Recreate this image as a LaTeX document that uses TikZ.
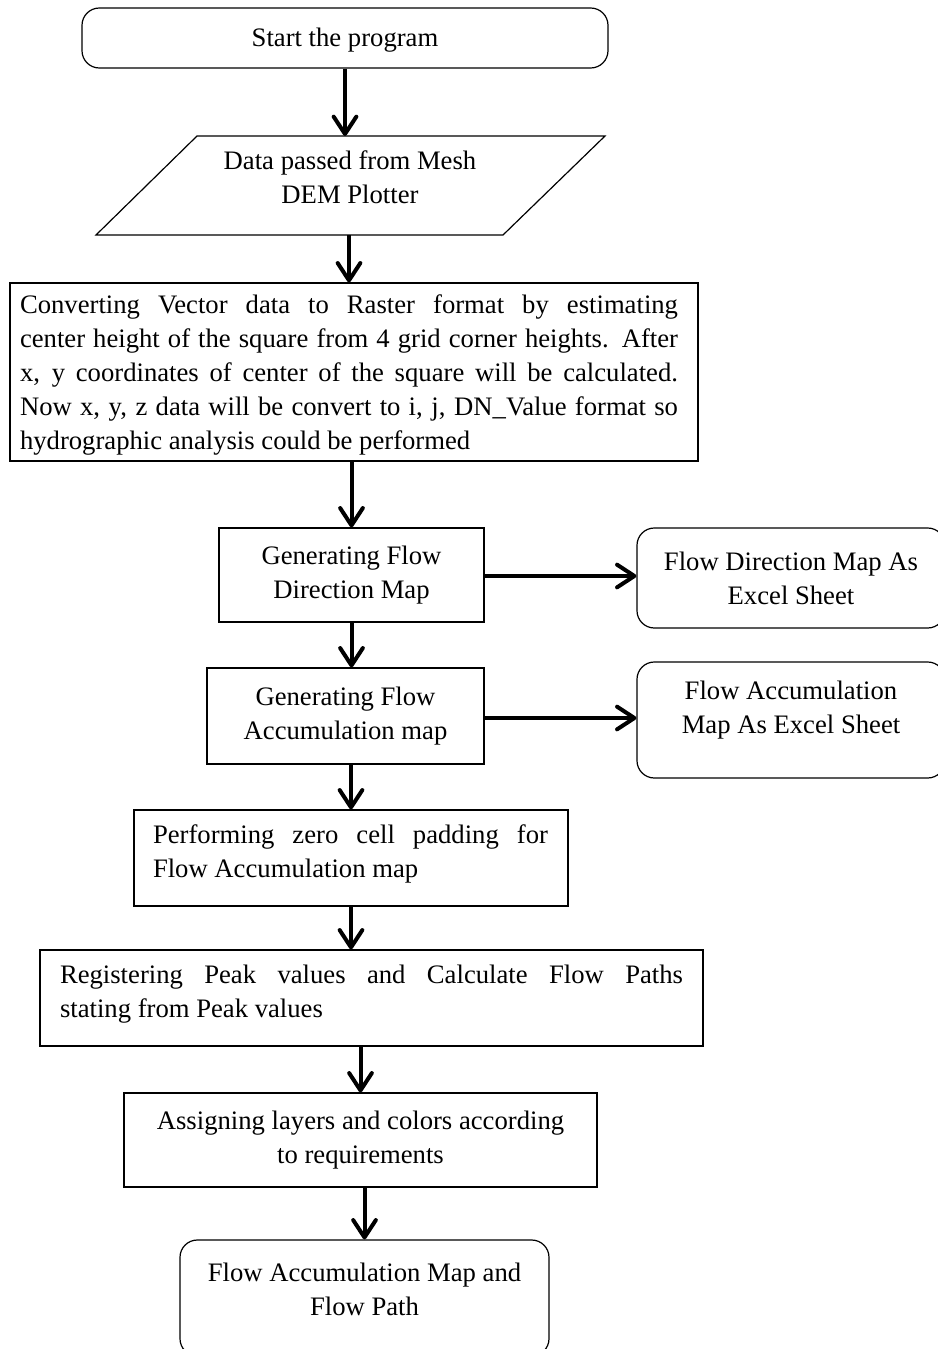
\documentclass[tikz,border=0pt]{standalone}
\usepackage{fontspec}
\setmainfont{Liberation Serif}
\usetikzlibrary{arrows.meta}
\tolerance=10000\relax
\hyphenpenalty=10000\relax
\hbadness=10000\relax
\begin{document}
\begin{tikzpicture}[x=0.75pt,y=-0.75pt,
  every node/.style={font=\fontsize{20}{25.5}\selectfont},
  box/.style={draw, line width=0.9pt, inner sep=0pt, align=center},
  term/.style={box, rounded corners=13pt},
  txt/.style={inner sep=0pt, align=center},
  arr/.style={line width=3pt, -{Straight Barb[length=13pt,width=17pt,round]}},
]
\useasboundingbox (0,0) rectangle (938,1349);

\node[term, minimum width=394.5pt, minimum height=45pt] (start) at (345,38) {};
\node[txt] (starttext) at (345,40) {Start the program};

\coordinate (dTL) at (197,136);
\coordinate (dTR) at (605,136);
\coordinate (dBR) at (503,235);
\coordinate (dBL) at (96,235);
\draw[line width=0.9pt] (dTL) -- (dTR) -- (dBR) -- (dBL) -- cycle;
\coordinate (dataN) at (347,136);
\coordinate (dataS) at (349,235);
\node[txt] (datatext) at (350,177.5) {Data passed from Mesh\\DEM Plotter};

\node[box, minimum width=516pt, minimum height=133.5pt] (conv) at (354,372) {};
\node[txt, text width=493.5pt, align=justify] (convtext) at (349,375) {Converting Vector data to Raster format by estimating\linebreak
center height of the square from 4 grid corner heights. After\linebreak
x, y coordinates of center of the square will be calculated.\linebreak
Now x, y, z data will be convert to i, j, DN\_Value format so\linebreak
hydrographic analysis could be performed};

\node[box, minimum width=198.75pt, minimum height=70.5pt] (fd) at (351.5,575) {Generating Flow\\Direction Map};
\node[term, minimum width=231pt, minimum height=75pt] (rb1) at (791,578) {Flow Direction Map As\\Excel Sheet};

\node[box, minimum width=207.75pt, minimum height=72pt] (acc) at (345.5,716) {Generating Flow\\Accumulation map};
\node[term, minimum width=231pt, minimum height=87pt] (rb2) at (791,720) {};
\node[txt] (rb2text) at (791,710) {Flow Accumulation\\Map As Excel Sheet};

\node[box, minimum width=325.5pt, minimum height=72pt] (pad) at (351,858) {};
\node[txt, text width=296.25pt, align=justify] (padtext) at (350.5,854) {Performing zero cell padding for\linebreak
Flow Accumulation map};

\node[box, minimum width=497.25pt, minimum height=72pt] (reg) at (371.5,998) {};
\node[txt, text width=467.25pt, align=justify] (regtext) at (371.5,994) {Registering Peak values and Calculate Flow Paths\linebreak
stating from Peak values};

\node[box, minimum width=354.75pt, minimum height=70.5pt] (assign) at (360.5,1140) {Assigning layers and colors according\\to requirements};

\node[term, minimum width=276.75pt, minimum height=87pt] (final) at (364.5,1298) {};
\node[txt] (finaltext) at (364.5,1289.5) {Flow Accumulation Map and\\Flow Path};

\draw[arr] (start.south) -- (start.south |- dataN);
\draw[arr] (dataS) -- (dataS |- conv.north);
\draw[arr] (fd.north |- conv.south) -- (fd.north);
\draw[arr] (fd.south) -- (fd.south |- acc.north);
\draw[arr] (pad.north |- acc.south) -- (pad.north);
\draw[arr] (pad.south) -- (pad.south |- reg.north);
\draw[arr] (assign.north |- reg.south) -- (assign.north);
\draw[arr] (final.north |- assign.south) -- (final.north);
\draw[arr] (fd.east |- 0,576) -- (rb1.west |- 0,576);
\draw[arr] (acc.east |- 0,718) -- (rb2.west |- 0,718);
\end{tikzpicture}
\end{document}
